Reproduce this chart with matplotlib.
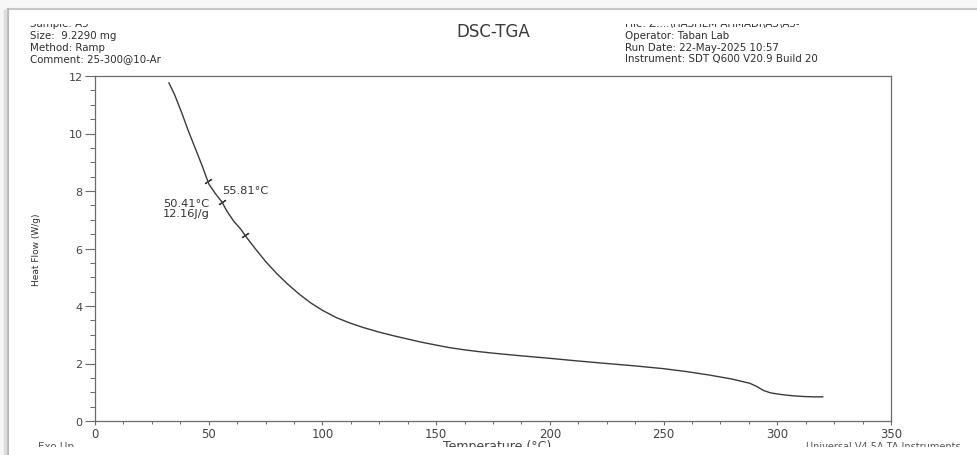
import matplotlib
matplotlib.use("Agg")
import matplotlib.pyplot as plt
import numpy as np
from matplotlib.ticker import MultipleLocator
from matplotlib.patches import Rectangle
from matplotlib.lines import Line2D

# ---- data ----
temperature = [32.5, 35, 38, 41, 44, 47, 50, 53, 55.8, 58, 61, 64, 67, 70.4, 75, 80,
               85, 90, 95, 100, 106, 112, 118, 125, 131, 137, 143, 150, 156, 162,
               168, 175, 187, 200, 212, 225, 237, 250, 260, 270, 280, 288, 291,
               294, 297, 300, 304, 308, 312, 316, 320]
heat_flow = [11.76, 11.35, 10.75, 10.1, 9.5, 8.9, 8.25, 7.9, 7.62, 7.3, 6.95, 6.68,
             6.35, 6.0, 5.55, 5.12, 4.74, 4.4, 4.1, 3.85, 3.6, 3.41, 3.25, 3.09,
             2.97, 2.86, 2.75, 2.64, 2.55, 2.48, 2.42, 2.36, 2.27, 2.18, 2.09,
             2.0, 1.92, 1.82, 1.72, 1.6, 1.46, 1.31, 1.2, 1.06, 0.98, 0.94, 0.9,
             0.87, 0.85, 0.84, 0.84]
mark_temps = [49.5, 55.81, 66.0]

header_left = ["Sample: A5", "Size:  9.2290 mg", "Method: Ramp", "Comment: 25-300@10-Ar"]
header_right = ["File: Z:...\\HASHEM AHMADI\\A5\\A5-", "Operator: Taban Lab",
                "Run Date: 22-May-2025 10:57", "Instrument: SDT Q600 V20.9 Build 20"]
title = "DSC-TGA"
xlabel = "Temperature (°C)"
ylabel = "Heat Flow (W/g)"
peak_label = "55.81°C"
onset_label = "50.41°C\n12.16J/g"
x_ticks = [0, 50, 100, 150, 200, 250, 300, 350]
y_ticks = [0, 2, 4, 6, 8, 10, 12]

W, H = 978, 456
plt.rcParams['font.family'] = ['DejaVu Sans']
fig = plt.figure(figsize=(W / 100, H / 100), dpi=100)
fig.patch.set_facecolor('white')

ax = fig.add_axes([95 / W, 1 - 422 / H, (891 - 95) / W, (422 - 77) / H])
ax.plot(temperature, heat_flow, color='#3a3a3a', lw=1.0)

mk_hf = np.interp(mark_temps, temperature, heat_flow)
ax.plot(mark_temps, mk_hf, linestyle='none', marker=(2, 2, -57), markersize=6,
        markeredgewidth=0.9, color='#3a3a3a')

ax.set_xlim(0, 350)
ax.set_ylim(0, 12)
ax.set_xticks(x_ticks)
ax.set_yticks(y_ticks)
ax.xaxis.set_minor_locator(MultipleLocator(12.5))
ax.yaxis.set_minor_locator(MultipleLocator(0.5))
for s in ax.spines.values():
    s.set_color('#6a6a6a')
    s.set_linewidth(0.9)
ax.tick_params(axis='y', which='major', direction='out', length=7, width=0.8,
               color='#6a6a6a', labelsize=8, labelcolor='#444444', pad=2)
ax.tick_params(axis='y', which='minor', direction='out', length=3.5, width=0.7, color='#6a6a6a')
ax.tick_params(axis='x', which='major', direction='out', length=3, width=0.8,
               color='#6a6a6a', labelsize=8.5, labelcolor='#444444', pad=1.5)
ax.tick_params(axis='x', which='minor', direction='out', length=2, width=0.7, color='#6a6a6a')

peak_hf = np.interp(55.81, temperature, heat_flow)
ax.text(55.81 + 0.3, peak_hf + 0.4, peak_label,
        fontsize=8.2, color='#333333', ha='left', va='center')
ax.text(30, peak_hf - 0.2, onset_label, fontsize=8.2, color='#333333', ha='left',
        va='center', linespacing=0.95)

# header
tc = '#2e2e2e'
rows_y = [24, 35.8, 47.6, 59.4]
for t, yy in zip(header_left, rows_y):
    fig.text(30 / W, 1 - yy / H, t, fontsize=7.4, color=tc, ha='left', va='center')
for t, yy in zip(header_right, rows_y):
    fig.text(625 / W, 1 - yy / H, t, fontsize=7.4, color=tc, ha='left', va='center')
fig.text(493 / W, 1 - 31.7 / H, title, fontsize=12, color='#3a3a3a', ha='center', va='center')

fig.text(36.5 / W, 1 - 250 / H, ylabel, fontsize=6.5, color=tc, rotation=90,
         ha='center', va='center')

# bottom texts (cut off by the screenshot edge)
fig.text(38 / W, 1 - 447 / H, "Exo Up", fontsize=7.5, color='#555555', ha='left', va='center')
fig.text(497 / W, 1 - 447 / H, xlabel, fontsize=9, color='#444444', ha='center', va='center')
fig.text(806 / W, 1 - 447 / H, "Universal V4.5A TA Instruments", fontsize=7,
         color='#555555', ha='left', va='center')

# screenshot edges that hide part of the text
fig.patches.append(Rectangle((0, 1 - 24.5 / H), 1, 24.5 / H, transform=fig.transFigure,
                             facecolor='white', edgecolor='none', zorder=10))
fig.patches.append(Rectangle((0, 0), 1, 8 / H, transform=fig.transFigure,
                             facecolor='white', edgecolor='none', zorder=10))
fig.patches.append(Rectangle((0, 0), 8 / W, 1, transform=fig.transFigure,
                             facecolor='#f7f7f7', edgecolor='none', zorder=10))
fig.patches.append(Rectangle((0, 1 - 10 / H), 1, 10 / H, transform=fig.transFigure,
                             facecolor='#f7f7f7', edgecolor='none', zorder=10))
fig.lines.append(Line2D([8 / W, 1], [1 - 10 / H, 1 - 10 / H], transform=fig.transFigure,
                        color='#c8c8c8', lw=1.5, zorder=11))
fig.lines.append(Line2D([8 / W, 8 / W], [0, 1 - 10 / H], transform=fig.transFigure,
                        color='#b8b8b8', lw=1.5, zorder=11))
fig.lines.append(Line2D([5 / W, 5 / W], [0, 1 - 12 / H], transform=fig.transFigure,
                        color='#dcdcdc', lw=2.5, zorder=11))

fig.savefig("out.png", dpi=100)
